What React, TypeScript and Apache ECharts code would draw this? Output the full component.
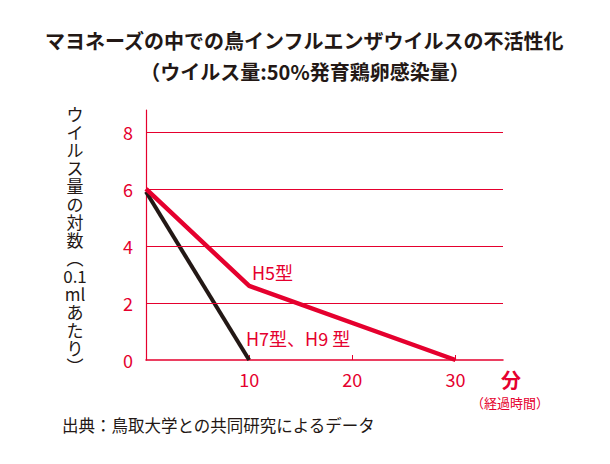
import React, { useEffect, useRef } from 'react';
import * as echarts from 'echarts';

const h5Minutes = [0, 10, 30];
const h5Values = [6, 2.6, 0];
const h7Minutes = [0, 10];
const h7Values = [5.9, 0];
const xTickValues = [10, 20, 30];
const yGridValues = [2, 4, 6, 8];

const titleLine1 = 'マヨネーズの中での鳥インフルエンザウイルスの不活性化';
const titleLine2 = '（ウイルス量:50%発育鶏卵感染量）';
const yAxisName = ['ウ', 'イ', 'ル', 'ス', '量', 'の', '対', '数', '︵', '0.1', 'ml', 'あ', 'た', 'り', '︶'];
const h5Label = 'H5型';
const h7Label = 'H7型、H9 型';
const xUnit = '分';
const xUnitSub = '（経過時間）';
const footer = '出典：鳥取大学との共同研究によるデータ';

const RED = '#e5002e';
const DARK = '#231815';
const FONT = '"Noto Sans CJK JP", "Noto Sans", sans-serif';

export default function App() {
  const ref = useRef<HTMLDivElement>(null);
  useEffect(() => {
    if (!ref.current) return;
    const chart = echarts.init(ref.current, undefined, { renderer: 'svg' });
    chart.setOption({
      animation: false,
      backgroundColor: '#ffffff',
      textStyle: { fontFamily: FONT },
      grid: { left: 146, right: 107, top: 110, bottom: 104 },
      xAxis: {
        type: 'value',
        min: 0,
        max: 34.6,
        interval: 10,
        axisLine: { show: true, lineStyle: { color: RED, width: 1.5 } },
        axisTick: { show: true, inside: true, length: 5, customValues: xTickValues, lineStyle: { color: RED, width: 1 } },
        axisLabel: { customValues: xTickValues, color: RED, fontSize: 18, fontFamily: FONT, margin: 10 },
        splitLine: { show: false },
      },
      yAxis: {
        type: 'value',
        min: 0,
        max: 8.77,
        interval: 2,
        axisLine: { show: true, lineStyle: { color: RED, width: 1.2 } },
        axisTick: { show: false },
        axisLabel: { showMaxLabel: false, color: RED, fontSize: 18, fontFamily: FONT, margin: 13 },
        splitLine: { show: false },
      },
      series: [
        {
          type: 'line',
          data: [],
          z: 1,
          markLine: {
            silent: true,
            symbol: 'none',
            label: { show: false },
            lineStyle: { color: RED, width: 1, type: 'solid' },
            data: yGridValues.map((v) => ({ yAxis: v })),
          },
        },
        {
          type: 'line',
          z: 3,
          data: h7Minutes.map((m, i) => [m, h7Values[i]]),
          symbol: 'none',
          lineStyle: { color: DARK, width: 4 },
        },
        {
          type: 'line',
          z: 4,
          data: h5Minutes.map((m, i) => [m, h5Values[i]]),
          symbol: 'none',
          lineStyle: { color: RED, width: 4.5 },
        },
      ],
      graphic: [
        { type: 'text', left: 'center', top: 30, style: { text: titleLine1, font: `bold 20px ${FONT}`, fill: DARK } },
        { type: 'text', left: 'center', top: 61, style: { text: titleLine2, font: `bold 20px ${FONT}`, fill: DARK } },
        {
          type: 'text', x: 75, y: 104,
          style: { text: yAxisName.join('\n'), font: `17px ${FONT}`, fill: DARK, align: 'center', verticalAlign: 'top', lineHeight: 18 },
        },
        { type: 'text', x: 252, y: 272, style: { text: h5Label, font: `18px ${FONT}`, fill: RED, verticalAlign: 'middle' } },
        { type: 'text', x: 246, y: 338, style: { text: h7Label, font: `18px ${FONT}`, fill: RED, verticalAlign: 'middle' } },
        { type: 'text', x: 511, y: 379, style: { text: xUnit, font: `bold 20px ${FONT}`, fill: RED, align: 'center', verticalAlign: 'middle' } },
        { type: 'text', x: 510, y: 402, style: { text: xUnitSub, font: `13px ${FONT}`, fill: RED, align: 'center', verticalAlign: 'middle' } },
        { type: 'text', x: 62, y: 425, style: { text: footer, font: `16.5px ${FONT}`, fill: DARK, verticalAlign: 'middle' } },
      ],
    });
    return () => chart.dispose();
  }, []);
  return <div ref={ref} style={{ position: 'fixed', left: 0, top: 0, width: 610, height: 464 }} />;
}
